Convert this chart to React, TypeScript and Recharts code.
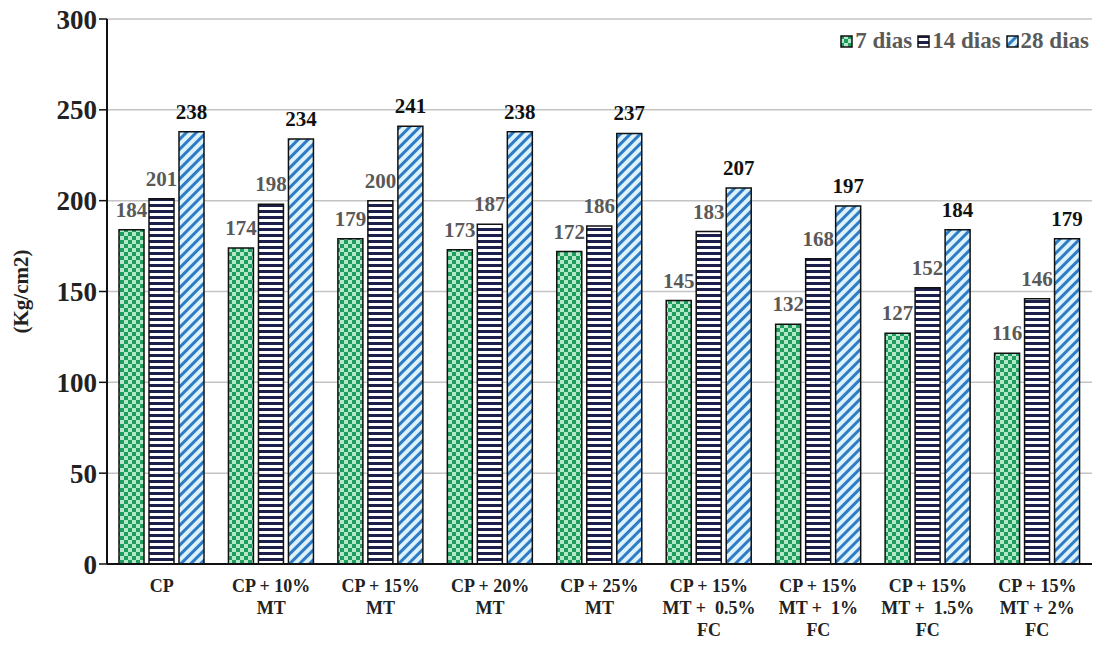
import { BarChart, Bar, XAxis, YAxis, CartesianGrid, LabelList } from "recharts";

const categories = [
  "CP",
  "CP + 10%|MT",
  "CP + 15%|MT",
  "CP + 20%|MT",
  "CP + 25%|MT",
  "CP + 15%|MT +  0.5%|FC",
  "CP + 15%|MT +  1%|FC",
  "CP + 15%|MT +  1.5%|FC",
  "CP + 15%|MT + 2%|FC",
];
const dias7 = [184, 174, 179, 173, 172, 145, 132, 127, 116];
const dias14 = [201, 198, 200, 187, 186, 183, 168, 152, 146];
const dias28 = [238, 234, 241, 238, 237, 207, 197, 184, 179];
const yTicks = [0, 50, 100, 150, 200, 250, 300];

const data = categories.map((c, i) => ({
  name: c,
  d7: dias7[i],
  d14: dias14[i],
  d28: dias28[i],
}));

const SERIF = "Liberation Serif, Times New Roman, serif";

const series = [
  { key: "d7", label: "7 dias", fill: "url(#chk)" },
  { key: "d14", label: "14 dias", fill: "url(#hstripe)" },
  { key: "d28", label: "28 dias", fill: "url(#diag)" },
];

function Patterns() {
  return (
    <defs>
      <pattern id="chk" width="8" height="8" patternUnits="userSpaceOnUse">
        <rect width="8" height="8" fill="#b4e8cb" />
        <rect width="4" height="4" fill="#1f9d5c" />
        <rect x="4" y="4" width="4" height="4" fill="#1f9d5c" />
      </pattern>
      <pattern id="hstripe" width="6" height="6" patternUnits="userSpaceOnUse">
        <rect width="6" height="6" fill="#ffffff" />
        <rect width="6" height="3" fill="#1c1f4c" />
      </pattern>
      <pattern
        id="diag"
        width="7"
        height="7"
        patternUnits="userSpaceOnUse"
        patternTransform="rotate(45)"
      >
        <rect width="7" height="7" fill="#def2fb" />
        <rect width="3" height="7" fill="#2e7cc6" />
      </pattern>
    </defs>
  );
}

const XTick = ({ x, y, payload }: any) => {
  const lines = String(payload.value).split("|");
  return (
    <text
      x={x}
      y={y + 20}
      textAnchor="middle"
      fontFamily={SERIF}
      fontWeight="bold"
      fontSize={18}
      fill="#222"
    >
      {lines.map((l, i) => (
        <tspan key={i} x={x} dy={i === 0 ? 0 : 22} style={{ whiteSpace: "pre" }}>
          {l}
        </tspan>
      ))}
    </text>
  );
};

const valueLabel = (color: string) => (props: any) => {
  const { x, y, width, value } = props;
  return (
    <text
      x={x + width / 2}
      y={y - 13}
      textAnchor="middle"
      fontFamily={SERIF}
      fontWeight="bold"
      fontSize={21}
      fill={color}
    >
      {value}
    </text>
  );
};

// legend drawn as an overlay so it does not push the plot down
const LegendBox = () => (
  <div
    style={{
      position: "absolute",
      top: 28,
      right: 4,
      display: "flex",
      alignItems: "center",
      fontFamily: SERIF,
      fontWeight: "bold",
      fontSize: 23,
      color: "#5a5a5a",
      whiteSpace: "nowrap",
    }}
  >
    {series.map((s) => (
      <span key={s.key} style={{ display: "flex", alignItems: "center", marginLeft: 5 }}>
        <svg width={13} height={13} style={{ marginRight: 2 }}>
          <rect x={1} y={1} width={11} height={11} fill={s.fill} stroke="#111" strokeWidth={1.5} />
        </svg>
        {s.label}
      </span>
    ))}
  </div>
);

export default function App() {
  return (
    <div style={{ position: "absolute", left: 0, top: 0, width: 1093, height: 646, background: "#fff" }}>
      <BarChart
        width={1093}
        height={646}
        data={data}
        margin={{ top: 19, right: 1, left: 0, bottom: 0 }}
        barSize={25}
        barGap={5}
      >
        <Patterns />
        <CartesianGrid vertical={false} stroke="#c4c4c4" strokeWidth={1.5} />
        <XAxis
          dataKey="name"
          height={82}
          tickLine={false}
          axisLine={{ stroke: "#111", strokeWidth: 2 }}
          tick={<XTick />}
          interval={0}
        />
        <YAxis
          width={107}
          domain={[0, 300]}
          ticks={yTicks}
          tickSize={8}
          tickLine={{ stroke: "#111", strokeWidth: 1.5 }}
          axisLine={{ stroke: "#111", strokeWidth: 2 }}
          tick={{ fontFamily: SERIF, fontWeight: "bold", fontSize: 27, fill: "#222" }}
          label={({ viewBox }: any) => {
            const cy = viewBox.y + viewBox.height / 2;
            return (
              <text
                x={23}
                y={cy}
                transform={`rotate(-90, 23, ${cy})`}
                textAnchor="middle"
                dominantBaseline="middle"
                fontFamily={SERIF}
                fontWeight="bold"
                fontSize={21}
                fill="#222"
              >
                (Kg/cm2)
              </text>
            );
          }}
        />
        <Bar dataKey="d7" fill="url(#chk)" stroke="#111" strokeWidth={1.5} isAnimationActive={false}>
          <LabelList dataKey="d7" content={valueLabel("#595959")} />
        </Bar>
        <Bar dataKey="d14" fill="url(#hstripe)" stroke="#111" strokeWidth={1.5} isAnimationActive={false}>
          <LabelList dataKey="d14" content={valueLabel("#595959")} />
        </Bar>
        <Bar dataKey="d28" fill="url(#diag)" stroke="#111" strokeWidth={1.5} isAnimationActive={false}>
          <LabelList dataKey="d28" content={valueLabel("#111")} />
        </Bar>
      </BarChart>
      <LegendBox />
    </div>
  );
}
